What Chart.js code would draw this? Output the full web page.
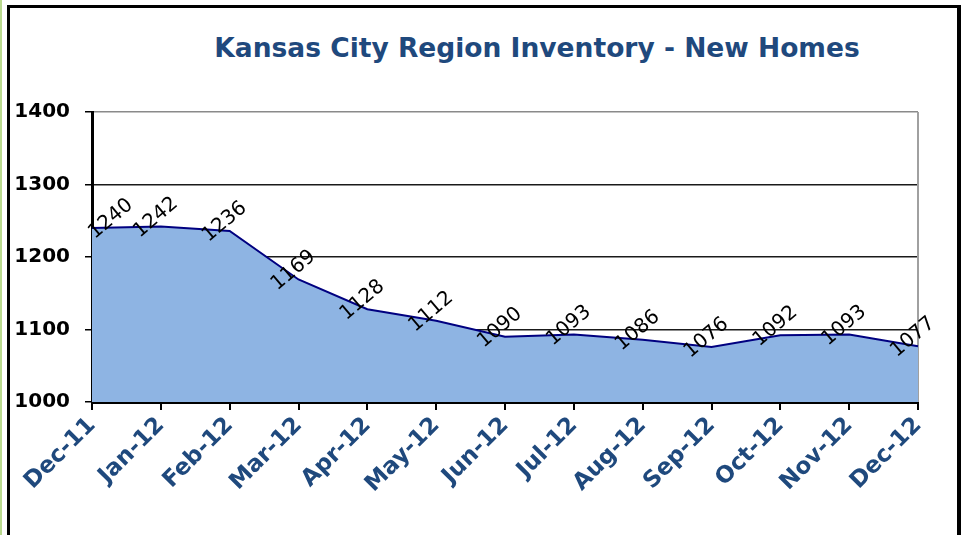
<!DOCTYPE html>
<html>
<head>
<title>Kansas City Region Inventory - New Homes</title>
<script src="https://cdn.jsdelivr.net/npm/chart.js"></script>
<style>
  body { margin: 0; background: #fff; }
  #wrap { position: relative; width: 962px; height: 535px; overflow: hidden; background: #fff; }
  #greenline { position: absolute; left: 0; top: 0; width: 2px; height: 535px; background: #b9d98e; }
  #frame { position: absolute; left: 7px; top: 5px; width: 947px; height: 560px;
           border: 3px solid #000; border-bottom: none; border-right-width: 4px; }
  #title { position: absolute; left: 537px; top: 32px; transform: translateX(-50%);
           white-space: nowrap; font: bold 26.5px "DejaVu Sans", sans-serif; color: #1f497d; }
  #chart { position: absolute; left: 0; top: 0; }
</style>
</head>
<body>
<div id="wrap">
  <div id="greenline"></div>
  <div id="frame"></div>
  <div id="title">Kansas City Region Inventory - New Homes</div>
  <canvas id="chart" width="962" height="535"></canvas>
</div>
<script>
// chart data
var months = ['Dec-11', 'Jan-12', 'Feb-12', 'Mar-12', 'Apr-12', 'May-12', 'Jun-12',
              'Jul-12', 'Aug-12', 'Sep-12', 'Oct-12', 'Nov-12', 'Dec-12'];
var inventory = [1240, 1242, 1236, 1169, 1128, 1112, 1090, 1093, 1086, 1076, 1092, 1093, 1077];
var yTicks = [1000, 1100, 1200, 1300, 1400];

// rotated value labels above each point
var valueLabels = {
    id: 'valueLabels',
    afterDatasetsDraw: function(chart) {
        var ctx = chart.ctx;
        var area = chart.chartArea;
        var meta = chart.getDatasetMeta(0);
        ctx.save();
        ctx.font = '20px "DejaVu Sans", sans-serif';
        ctx.fillStyle = '#000';
        ctx.textAlign = 'center';
        ctx.textBaseline = 'middle';
        meta.data.forEach(function(pt, i) {
            var x = Math.max(pt.x - 5, area.left + 19);
            var y = pt.y - 9;
            ctx.save();
            ctx.translate(x, y);
            ctx.rotate(-40 * Math.PI / 180);
            ctx.fillText(String(inventory[i]), 0, 0);
            ctx.restore();
        });
        ctx.restore();
    }
};

// grey right edge of the plot area
var plotEdge = {
    id: 'plotEdge',
    beforeDatasetsDraw: function(chart) {
        var a = chart.chartArea;
        var ctx = chart.ctx;
        ctx.save();
        ctx.strokeStyle = '#a0a0a0';
        ctx.lineWidth = 2;
        ctx.beginPath();
        ctx.moveTo(a.right, a.top);
        ctx.lineTo(a.right, a.bottom);
        ctx.stroke();
        ctx.restore();
    }
};

new Chart(document.getElementById('chart').getContext('2d'), {
    type: 'line',
    data: {
        labels: months,
        datasets: [{
            data: inventory,
            borderColor: '#000080',
            borderWidth: 2,
            backgroundColor: '#8eb4e3',
            fill: 'start',
            tension: 0,
            pointRadius: 0
        }]
    },
    options: {
        responsive: false,
        animation: false,
        layout: { padding: { left: 0, right: 44, top: 112, bottom: 0 } },
        plugins: {
            legend: { display: false },
            title: { display: false },
            tooltip: { enabled: false }
        },
        scales: {
            x: {
                offset: false,
                afterFit: function(scale) { scale.height = 133; },
                grid: { drawOnChartArea: false, drawTicks: true, tickLength: 8, color: '#000', lineWidth: 2 },
                border: { color: '#000', width: 3 },
                ticks: {
                    autoSkip: false, maxRotation: 45, minRotation: 45, padding: 2,
                    color: '#1f497d',
                    font: { family: '"DejaVu Sans", sans-serif', size: 23, weight: 'bold' }
                }
            },
            y: {
                min: 1000,
                max: 1400,
                afterFit: function(scale) { scale.width = 92; },
                afterBuildTicks: function(scale) {
                    scale.ticks = yTicks.map(function(v) { return { value: v }; });
                },
                grid: {
                    color: function(c) { return c.tick && c.tick.value === 1400 ? '#8a8a8a' : '#1a1a1a'; },
                    lineWidth: 1.5,
                    tickLength: 7,
                    tickColor: '#000'
                },
                border: { color: '#000', width: 3 },
                ticks: {
                    padding: 15,
                    color: '#000',
                    callback: function(v) { return String(v); },
                    font: { family: '"DejaVu Sans", sans-serif', size: 20, weight: 'bold' }
                }
            }
        }
    },
    plugins: [plotEdge, valueLabels]
});
</script>
</body>
</html>
